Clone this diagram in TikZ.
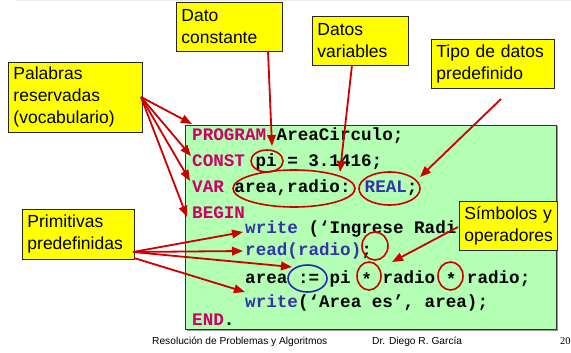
\documentclass[tikz,border=0pt]{standalone}
\usepackage{fontspec}
\setmainfont{Liberation Sans}
\newfontfamily\codefont{Liberation Mono}
\newfontfamily\numfont{Liberation Serif}
\usetikzlibrary{arrows.meta,shapes.geometric}

\definecolor{codebg}{HTML}{B3FFB3}
\definecolor{kwcol}{HTML}{CC0066}
\definecolor{fncol}{HTML}{3333AA}
\definecolor{arrowred}{HTML}{CC0000}
\definecolor{ringblue}{HTML}{2828B0}
\definecolor{notefill}{HTML}{FFFF00}

\newcommand{\kw}[1]{\textcolor{kwcol}{#1}}
\newcommand{\fn}[1]{\textcolor{fncol}{#1}}
\newcommand{\mulop}{\raisebox{-2.5pt}{*}}

\tikzset{
  note/.style={draw=black!85, line width=0.9pt, fill=notefill, anchor=north west,
    align=left, inner xsep=5pt, inner ysep=0pt,
    font=\fontsize{17.5}{22}\selectfont},
  pointer/.style={draw=arrowred, line width=1.8pt, -{Triangle[length=11pt,width=8.5pt]}},
  ring/.style={ellipse, draw=arrowred, line width=1.6pt, inner sep=0pt},
  bluering/.style={ring, draw=ringblue},
  codeline/.style={anchor=base west, inner sep=0pt,
    font=\codefont\bfseries\fontsize{17.6}{20}\selectfont},
  footer/.style={anchor=base west, inner sep=0pt, font=\fontsize{10.2}{12}\selectfont},
}

\begin{document}
\begin{tikzpicture}[x=1pt,y=-1pt]
\useasboundingbox (0,0) rectangle (571,353);
\fill[white] (0,0) rectangle (571,353);
\draw[black!8, line width=0.8pt] (15,0.5) -- (571,0.5);

% program listing panel
\fill[black!40] (186.5,126.5) rectangle (557.5,330.5);
\node[draw=black!80, line width=0.9pt, fill=codebg, anchor=north west, inner sep=0pt,
  minimum width=371pt, minimum height=204pt] (listing) at (185,125) {};

\node[codeline] (l1) at (192,140) {\kw{PROGRAM} AreaCirculo;};
\node[codeline] (l2) at (192,166) {\kw{CONST} pi = 3.1416;};
\node[codeline] (l3) at (192,192) {\kw{VAR} area,radio: \fn{REAL};};
\node[codeline] (l4) at (192,218) {\kw{BEGIN}};
\node[codeline] (l5) at (245,233) {\fn{write} (‘Ingrese Radi};
\node[codeline] (l6) at (245,255) {\fn{read(radio)};};
\node[codeline] (l7) at (245,283) {area := pi \mulop{} radio \mulop{} radio;};
\node[codeline] (l8) at (245,307) {\fn{write}(‘Area es’, area);};
\node[codeline] (l9) at (192,325) {\kw{END}.};

% highlighted tokens
\node[ring, minimum width=32pt, minimum height=22pt] (rpi) at (267,161) {};
\node[ring, minimum width=122pt, minimum height=37pt] (rvars) at (294,188.5) {};
\node[ring, minimum width=61pt, minimum height=33pt] (rreal) at (389.5,188.5) {};
\node[ring, minimum width=26pt, minimum height=28pt] (rsemi) at (375,246) {};
\node[bluering, minimum width=39pt, minimum height=27pt] (rassign) at (307.5,278.5) {};
\node[ring, minimum width=24pt, minimum height=28pt] (rstar1) at (369,276) {};
\node[ring, minimum width=25pt, minimum height=28pt] (rstar2) at (450.5,276) {};

% callout boxes
\node[note, text width=96pt, minimum height=49pt] (nconst) at (176,2) {Dato\\constante};
\node[note, text width=124pt, minimum height=70pt] (nres) at (8,62) {Palabras\\reservadas\\(vocabulario)};
\node[note, text width=86pt, minimum height=49pt] (nvar) at (312,16) {Datos\\variables};
\node[note, text width=113pt, minimum height=49pt] (ntype) at (431,39) {Tipo de datos\\predefinido};
\node[note, text width=102pt, minimum height=50pt] (nprim) at (22,209) {Primitivas\\predefinidas};
\node[note, text width=88pt, minimum height=49pt] (nsym) at (459,201) {Símbolos~y\\operadores};

% arrow anchor points
\coordinate (sconst) at (268,51);
\coordinate (tconst) at (272,146);
\coordinate (svar) at (352,65);
\coordinate (tvar) at (340,172);
\coordinate (stype) at (501,99);
\coordinate (ttype) at (420,177);
\coordinate (ssym) at (458,227);
\coordinate (tsym) at (392,262);
\coordinate (sres) at (141,97);
\coordinate (tres1) at (192,124);
\coordinate (tres2) at (191,156);
\coordinate (tres3) at (190,181);
\coordinate (tres4) at (187,217);
\coordinate (sprim) at (133,252);
\coordinate (sprimb) at (134,258);
\coordinate (tprim1) at (243,232);
\coordinate (tprim2) at (243,251);
\coordinate (tprim3) at (292,267);
\coordinate (tprim4) at (245,292);

% pointers
\draw[pointer] (sconst) -- (tconst);
\draw[pointer] (svar) -- (tvar);
\draw[pointer] (stype) -- (ttype);
\draw[pointer] (ssym) -- (tsym);
\draw[pointer] (sres) -- (tres1);
\draw[pointer] (sres) -- (tres2);
\draw[pointer] (sres) -- (tres3);
\draw[pointer] (sres) -- (tres4);
\draw[pointer] (sprim) -- (tprim1);
\draw[pointer] (sprim) -- (tprim2);
\draw[pointer] (sprim) -- (tprim3);
\draw[pointer] (sprimb) -- (tprim4);

% footer
\node[footer] (f1) at (152,344) {Resolución de Problemas y Algoritmos};
\node[footer] (f2) at (372,344) {Dr. Diego R. García};
\node[footer, font=\numfont\fontsize{10.5}{12}\selectfont] (f3) at (560,344) {20};
\end{tikzpicture}
\end{document}
